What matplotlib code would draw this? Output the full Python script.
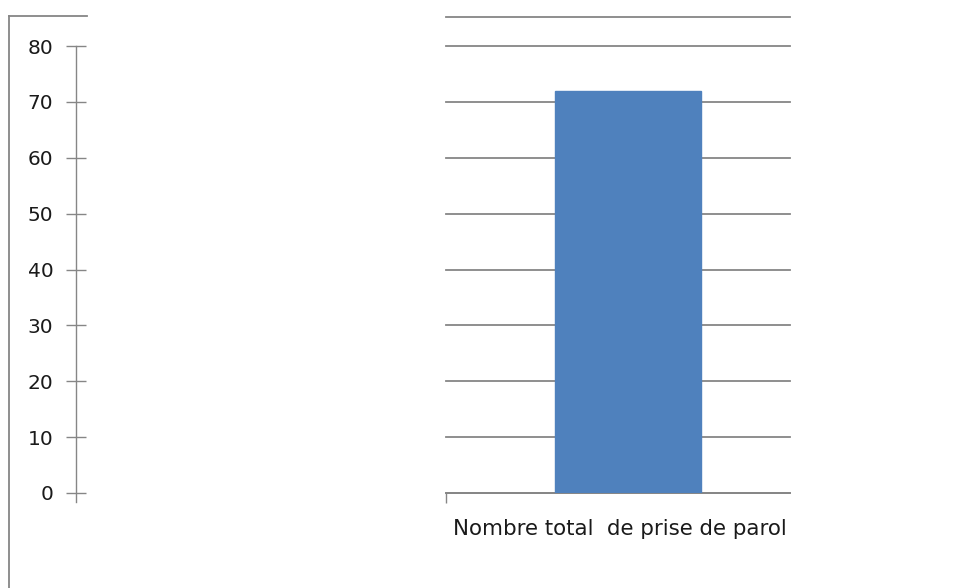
import matplotlib
matplotlib.use('Agg')
import matplotlib.pyplot as plt
from matplotlib.lines import Line2D

# data
categories = ['Nombre total  de prise de parol']
values = [72]
yticks = [0, 10, 20, 30, 40, 50, 60, 70, 80]

W, H = 954, 588
grid_col = '#868686'
bar_col = '#4F81BD'
txt_col = '#1a1a1a'

def fx(px):
    return px / W

def fy(py):
    return (H - py) / H

fig = plt.figure(figsize=(W / 100, H / 100), dpi=100)

# main plot area (bar + gridlines)
ax = fig.add_axes([fx(446), fy(493), fx(790) - fx(446), fy(46) - fy(493)])
ax.bar([0], values, width=0.424, color=bar_col, edgecolor=bar_col, zorder=3)
ax.set_ylim(0, 80)
ax.set_xlim(-0.53, 0.47)
ax.set_yticks(yticks)
ax.yaxis.grid(True, color=grid_col, linewidth=1.3)
for gl in ax.get_ygridlines():
    gl.set_clip_on(False)
ax.tick_params(axis='y', left=False, labelleft=False)
for s in ['left', 'right', 'top']:
    ax.spines[s].set_visible(False)
ax.spines['bottom'].set_color(grid_col)
ax.spines['bottom'].set_linewidth(1.3)
ax.set_xticks([-0.53], [''])
ax.tick_params(axis='x', direction='out', length=7.5, color=grid_col, width=1)
ax.set_xticks([-0.51], categories, minor=True)
ax.tick_params(axis='x', which='minor', length=0, pad=18.5, labelsize=15.4, labelcolor=txt_col)
for lab in ax.get_xticklabels(minor=True):
    lab.set_horizontalalignment('left')
ax.set_axisbelow(True)

# separate value axis on the far left
ay = fig.add_axes([fx(76), fy(493), 0.001, fy(46) - fy(493)])
ay.set_ylim(0, 80)
ay.set_yticks(yticks)
ay.patch.set_visible(False)
for s in ['right', 'top', 'bottom']:
    ay.spines[s].set_visible(False)
ay.spines['left'].set_color(grid_col)
ay.spines['left'].set_linewidth(1)
ay.spines['left'].set_bounds(-1.6, 80)
ay.set_xticks([])
ay.tick_params(axis='y', direction='inout', length=13.7, width=1, color=grid_col,
               pad=9.5, labelsize=14.5, labelcolor=txt_col)

# chart frame pieces
fig.add_artist(Line2D([fx(9), fx(9)], [fy(16), fy(588)], color=grid_col, lw=1.3))
fig.add_artist(Line2D([fx(9), fx(87)], [fy(16), fy(16)], color=grid_col, lw=1.3))
fig.add_artist(Line2D([fx(446), fx(790)], [fy(16.5), fy(16.5)], color=grid_col, lw=1.3))

fig.savefig('out.png', dpi=100)
